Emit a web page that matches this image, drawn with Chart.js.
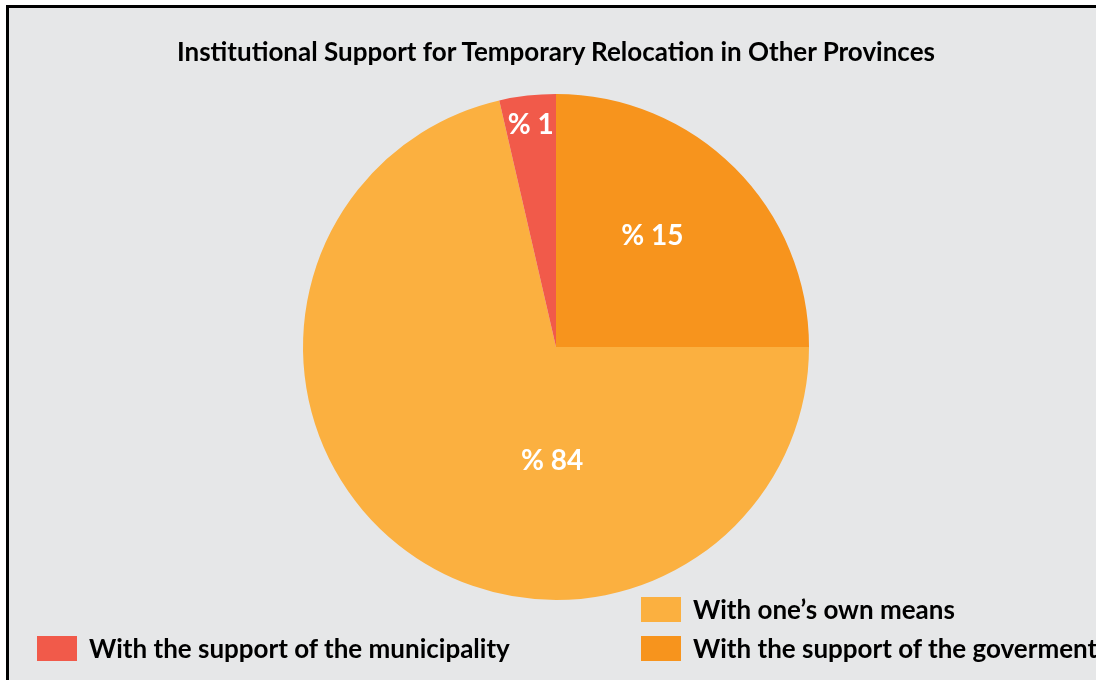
<!DOCTYPE html>
<html>
<head>
<meta charset="utf-8">
<script src="https://cdn.jsdelivr.net/npm/chart.js@4"></script>
<style>
  html, body { margin: 0; padding: 0; background: #ffffff; width: 1096px; height: 680px; overflow: hidden; }
  #frame { position: absolute; left: 6px; top: 5px; width: 1200px; height: 800px;
           background: #e6e7e8; border-left: 3px solid #000; border-top: 3px solid #000; }
  #chartWrap { position: absolute; left: 0; top: 0; width: 1096px; height: 680px; }
  #title { position: absolute; left: 0; width: 1112px; top: 35px; text-align: center;
           font-family: Lato, sans-serif; font-weight: bold; font-size: 26px; color: #000; }
  .leg { position: absolute; font-family: Lato, sans-serif; font-weight: bold; font-size: 26px; color: #000;
         white-space: nowrap; line-height: 26px; }
  .leg span.box { position: absolute; left: 0; top: 0; width: 40px; height: 25px; }
  .leg span.txt { position: absolute; left: 52px; top: -1px; }
</style>
</head>
<body>
<div id="frame"></div>
<div id="chartWrap"><canvas id="pieChart" width="1096" height="680"></canvas></div>
<div id="title">Institutional Support for Temporary Relocation in Other Provinces</div>
<div id="legend"></div>
<script>
// Categories in drawing order (clockwise from 12 o'clock)
const categories = ['With the support of the goverment', "With one\u2019s own means", 'With the support of the municipality'];
// Slice shares as drawn in the picture
const sliceValues = [25, 71.4, 3.6];
// Printed labels on the slices
const sliceLabels = ['% 15', '% 84', '% 1'];
const sliceColors = ['#f7941d', '#fbb040', '#f15a4a'];

// where each label sits: [radius fraction, angle in degrees clockwise from top]
const labelPlace = [[0.58, 41], [0.45, 182], [0.885, 353.5]];

const sliceText = {
    id: 'sliceText',
    afterDatasetsDraw(chart) {
        const ctx = chart.ctx;
        const meta = chart.getDatasetMeta(0);
        ctx.save();
        ctx.fillStyle = '#ffffff';
        ctx.font = 'bold 28px Lato, sans-serif';
        ctx.textAlign = 'center';
        ctx.textBaseline = 'middle';
        meta.data.forEach((arc, i) => {
            const p = labelPlace[i];
            const a = (p[1] - 90) * Math.PI / 180;
            const r = arc.outerRadius * p[0];
            ctx.fillText(sliceLabels[i], arc.x + Math.cos(a) * r, arc.y + Math.sin(a) * r);
        });
        ctx.restore();
    }
};

new Chart(document.getElementById('pieChart'), {
    type: 'pie',
    data: {
        labels: categories,
        datasets: [{
            data: sliceValues,
            backgroundColor: sliceColors,
            borderWidth: 0
        }]
    },
    options: {
        responsive: false,
        animation: false,
        layout: { padding: { left: 303, right: 287, top: 94, bottom: 80 } },
        plugins: { legend: { display: false }, title: { display: false }, tooltip: { enabled: false } }
    },
    plugins: [sliceText]
});

// HTML legend
const legendPos = [[641, 636], [641, 597], [37, 636]];
const legendEl = document.getElementById('legend');
categories.forEach((c, i) => {
    const d = document.createElement('div');
    d.className = 'leg';
    d.style.left = legendPos[i][0] + 'px';
    d.style.top = legendPos[i][1] + 'px';
    d.innerHTML = '<span class="box" style="background:' + sliceColors[i] + '"></span><span class="txt"></span>';
    d.querySelector('.txt').textContent = c;
    legendEl.appendChild(d);
});
</script>
</body>
</html>
